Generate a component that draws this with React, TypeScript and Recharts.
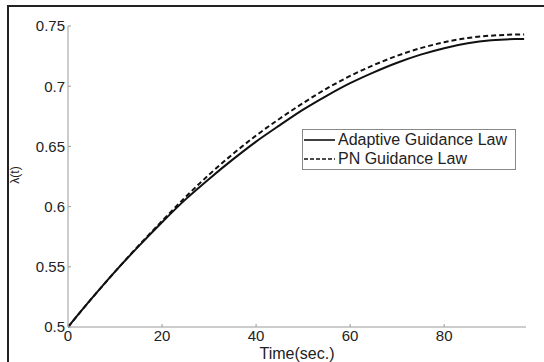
import React from 'react';
import { LineChart, Line, XAxis, YAxis, Legend } from 'recharts';

// time samples (sec.)
const times = [0, 5, 10, 15, 20, 25, 30, 35, 40, 45, 50, 55, 60, 65, 70, 75, 80, 85, 90, 95, 97];
const adaptive = [0.5, 0.5235, 0.546, 0.567, 0.587, 0.606, 0.623, 0.639, 0.654, 0.6675, 0.6805, 0.692, 0.7025, 0.7115, 0.7195, 0.7262, 0.7316, 0.7356, 0.7381, 0.7392, 0.7393];
const pn = [0.5, 0.5235, 0.546, 0.5675, 0.588, 0.608, 0.6265, 0.6435, 0.659, 0.673, 0.686, 0.698, 0.7085, 0.7175, 0.7253, 0.7316, 0.7365, 0.74, 0.742, 0.7429, 0.743];
const xTicks = [0, 20, 40, 60, 80];
const yTicks = [0.5, 0.55, 0.6, 0.65, 0.7, 0.75];

const data = times.map((t, i) => ({ t, adaptive: adaptive[i], pn: pn[i] }));

const font = 'Arial, "Liberation Sans", Helvetica, sans-serif';
const axisGray = '#9a9a9a';
const tickStyle = { fontSize: 15, fill: '#222', fontFamily: font };

function LegendBox() {
  const rows = [
    { label: 'Adaptive Guidance Law', dash: undefined },
    { label: 'PN Guidance Law', dash: '4 2' },
  ];
  return (
    <div style={{ border: '1px solid #888', background: '#fff', padding: '1px 4px 1px 0px', fontFamily: font, fontSize: 16, color: '#222', width: 214, boxSizing: 'border-box' }}>
      {rows.map(r => (
        <div key={r.label} style={{ display: 'flex', alignItems: 'center', height: 18.5 }}>
          <svg width={34} height={10}>
            <line x1={1} y1={5} x2={32} y2={5} stroke="#111" strokeWidth={1.6} strokeDasharray={r.dash} />
          </svg>
          <span style={{ marginLeft: 1, whiteSpace: 'nowrap' }}>{r.label}</span>
        </div>
      ))}
    </div>
  );
}

export default function App() {
  return (
    <div style={{ position: 'absolute', left: 0, top: 0, width: 544, height: 362, background: '#fff' }}>
      <div style={{ position: 'absolute', left: 7, top: 5, width: 537, height: 357, borderTop: '2px solid #222', borderLeft: '2px solid #222' }} />
      <div style={{ position: 'absolute', left: 0, top: 0 }}>
        <LineChart width={544} height={362} data={data} margin={{ top: 26, right: 18, bottom: 0, left: 8 }}>
          <XAxis
            xAxisId="b"
            dataKey="t"
            type="number"
            domain={[0, 97.4]}
            ticks={xTicks}
            allowDataOverflow
            stroke={axisGray}
            tickSize={-3}
            tickMargin={6}
            tick={tickStyle}
            height={35}
            label={{ value: 'Time(sec.)', position: 'insideBottom', offset: 3, style: { fontSize: 16, fill: '#222', fontFamily: font } }}
          />
          <XAxis
            xAxisId="top"
            orientation="top"
            dataKey="t"
            type="number"
            domain={[0, 97.4]}
            ticks={xTicks}
            allowDataOverflow
            stroke={axisGray}
            tickSize={-3}
            tick={false}
            height={0}
          />
          <YAxis
            yAxisId="l"
            domain={[0.5, 0.75]}
            ticks={yTicks}
            stroke={axisGray}
            tickSize={-3}
            tickMargin={6}
            tick={tickStyle}
            width={60}
            label={{
              content: () => (
                <text x={19} y={175} transform="rotate(-90 19 175)" textAnchor="middle" fontSize={12} fill="#222" fontFamily={font}>λ(t)</text>
              ),
            }}
          />
          <YAxis
            yAxisId="r"
            orientation="right"
            domain={[0.5, 0.75]}
            ticks={yTicks}
            stroke={axisGray}
            tickSize={-3}
            tick={false}
            width={0}
          />
          <Legend
            layout="horizontal"
            verticalAlign="middle"
            content={() => <LegendBox />}
            wrapperStyle={{ position: 'absolute', left: 302, top: 129, width: 'auto' }}
          />
          <Line xAxisId="b" yAxisId="l" type="monotone" dataKey="adaptive" stroke="#111" strokeWidth={2} dot={false} isAnimationActive={false} />
          <Line xAxisId="b" yAxisId="l" type="monotone" dataKey="pn" stroke="#111" strokeWidth={2} strokeDasharray="5 3" dot={false} isAnimationActive={false} />
        </LineChart>
      </div>
    </div>
  );
}
